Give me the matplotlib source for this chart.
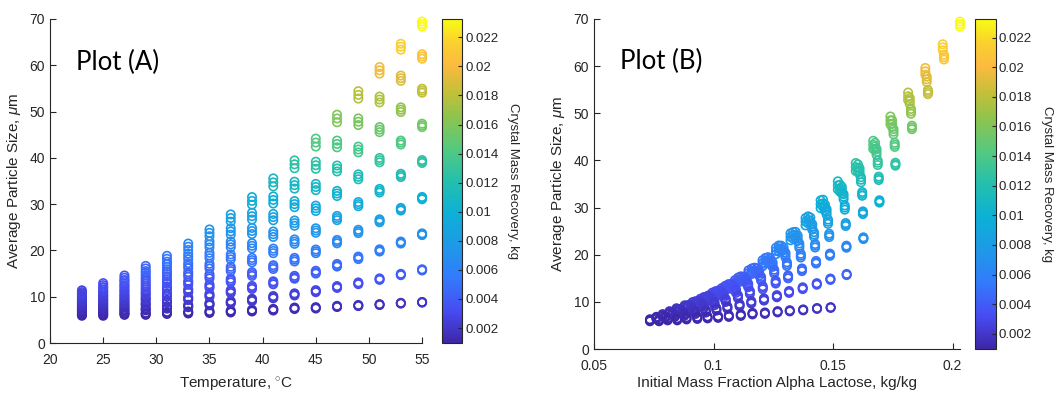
import numpy as np
import matplotlib
matplotlib.use('Agg')
import matplotlib.pyplot as plt
from matplotlib.colors import LinearSegmentedColormap, Normalize
from matplotlib.cm import ScalarMappable

plt.rcParams['font.family'] = 'Liberation Sans'
plt.rcParams['mathtext.fontset'] = 'custom'
plt.rcParams['mathtext.rm'] = 'Liberation Sans'
plt.rcParams['mathtext.it'] = 'Liberation Sans:italic'

# parula style colormap (position, colour)
parula_pos = [0.0, 0.1, 0.2, 0.3, 0.4, 0.5, 0.6, 0.7, 0.78, 0.86, 0.93, 1.0]
parula_rgb = [(0.242, 0.150, 0.660), (0.280, 0.300, 0.950), (0.200, 0.480, 0.990),
              (0.120, 0.600, 0.910), (0.050, 0.690, 0.840), (0.140, 0.750, 0.680),
              (0.330, 0.790, 0.500), (0.560, 0.770, 0.300), (0.780, 0.750, 0.220),
              (0.990, 0.730, 0.250), (0.980, 0.820, 0.180), (0.977, 0.984, 0.080)]
parula = LinearSegmentedColormap.from_list('parula', list(zip(parula_pos, parula_rgb)))

# final temperature, degC
temps = [23, 25, 27, 29, 31, 33, 35, 37, 39, 41, 43, 45, 47, 49, 51, 53, 55]

# average particle size (um), one row per temperature, 9 initial concentrations each
size_um = [
    [6.1, 6.6, 7.15, 7.75, 8.35, 8.95, 9.6, 10.3, 11.0],
    [6.1, 6.75, 7.45, 8.2, 9.0, 9.8, 10.65, 11.55, 12.5],
    [6.3, 7.1, 7.95, 8.85, 9.8, 10.8, 11.85, 12.95, 14.1],
    [6.3, 7.3, 8.4, 9.55, 10.75, 12.0, 13.3, 14.65, 16.1],
    [6.5, 7.7, 9.0, 10.4, 11.8, 13.3, 14.9, 16.5, 18.2],
    [6.6, 8.0, 9.6, 11.3, 13.0, 14.8, 16.7, 18.7, 20.8],
    [6.7, 8.4, 10.3, 12.3, 14.4, 16.6, 18.9, 21.3, 23.8],
    [6.8, 8.8, 11.1, 13.5, 16.0, 18.6, 21.3, 24.1, 27.0],
    [7.0, 9.3, 12.0, 14.9, 17.9, 21.0, 24.2, 27.4, 30.7],
    [7.2, 9.9, 13.0, 16.4, 19.9, 23.5, 27.2, 30.9, 34.7],
    [7.5, 10.5, 14.2, 18.0, 21.9, 25.9, 30.0, 34.1, 38.6],
    [7.6, 11.2, 15.3, 19.8, 24.3, 29.1, 33.7, 38.4, 43.3],
    [7.9, 12.1, 16.8, 21.9, 27.0, 32.3, 37.7, 43.0, 48.5],
    [8.1, 12.9, 18.4, 24.1, 30.0, 35.9, 41.8, 47.8, 53.6],
    [8.3, 13.8, 20.0, 26.4, 32.9, 39.5, 46.1, 52.6, 58.9],
    [8.6, 14.8, 21.7, 28.9, 36.2, 43.3, 50.4, 57.2, 64.0],
    [8.8, 15.8, 23.5, 31.3, 39.2, 47.0, 54.5, 61.9, 68.9],
]

# initial mass fraction of alpha lactose, kg/kg
frac_alpha = [
    [0.0734, 0.0761, 0.0787, 0.0816, 0.0845, 0.0879, 0.0912, 0.0945, 0.0980],
    [0.0772, 0.0798, 0.0828, 0.0857, 0.0892, 0.0925, 0.0960, 0.0995, 0.1035],
    [0.0808, 0.0839, 0.0869, 0.0904, 0.0938, 0.0973, 0.1009, 0.1049, 0.1089],
    [0.0848, 0.0878, 0.0915, 0.0949, 0.0985, 0.1021, 0.1063, 0.1103, 0.1146],
    [0.0887, 0.0924, 0.0959, 0.0995, 0.1032, 0.1074, 0.1115, 0.1160, 0.1205],
    [0.0932, 0.0968, 0.1004, 0.1042, 0.1085, 0.1127, 0.1171, 0.1217, 0.1261],
    [0.0975, 0.1012, 0.1051, 0.1094, 0.1137, 0.1182, 0.1228, 0.1273, 0.1322],
    [0.1019, 0.1058, 0.1102, 0.1145, 0.1191, 0.1238, 0.1283, 0.1333, 0.1385],
    [0.1064, 0.1109, 0.1152, 0.1199, 0.1247, 0.1293, 0.1343, 0.1396, 0.1448],
    [0.1114, 0.1158, 0.1206, 0.1254, 0.1301, 0.1352, 0.1405, 0.1458, 0.1520],
    [0.1163, 0.1211, 0.1260, 0.1307, 0.1359, 0.1413, 0.1466, 0.1529, 0.1595],
    [0.1215, 0.1265, 0.1312, 0.1365, 0.1420, 0.1473, 0.1537, 0.1604, 0.1668],
    [0.1268, 0.1316, 0.1370, 0.1425, 0.1479, 0.1544, 0.1611, 0.1676, 0.1740],
    [0.1319, 0.1373, 0.1429, 0.1484, 0.1549, 0.1617, 0.1682, 0.1747, 0.1814],
    [0.1375, 0.1432, 0.1487, 0.1553, 0.1622, 0.1687, 0.1753, 0.1821, 0.1886],
    [0.1433, 0.1489, 0.1556, 0.1625, 0.1691, 0.1758, 0.1826, 0.1892, 0.1959],
    [0.1490, 0.1557, 0.1627, 0.1694, 0.1761, 0.1830, 0.1897, 0.1964, 0.2031],
]

# crystal mass recovery, kg
recovery_kg = [
    [0.00097, 0.00114, 0.00134, 0.00155, 0.00176, 0.00198, 0.00221, 0.00246, 0.00271],
    [0.00097, 0.00120, 0.00144, 0.00171, 0.00200, 0.00228, 0.00258, 0.00290, 0.00324],
    [0.00104, 0.00132, 0.00162, 0.00194, 0.00228, 0.00263, 0.00301, 0.00340, 0.00381],
    [0.00104, 0.00139, 0.00178, 0.00219, 0.00262, 0.00306, 0.00352, 0.00400, 0.00452],
    [0.00111, 0.00153, 0.00200, 0.00249, 0.00299, 0.00352, 0.00409, 0.00466, 0.00526],
    [0.00114, 0.00164, 0.00221, 0.00281, 0.00342, 0.00405, 0.00473, 0.00544, 0.00618],
    [0.00118, 0.00178, 0.00246, 0.00317, 0.00391, 0.00469, 0.00551, 0.00636, 0.00725],
    [0.00121, 0.00192, 0.00274, 0.00359, 0.00448, 0.00540, 0.00636, 0.00736, 0.00839],
    [0.00129, 0.00210, 0.00306, 0.00409, 0.00515, 0.00626, 0.00739, 0.00853, 0.00970],
    [0.00136, 0.00231, 0.00342, 0.00462, 0.00586, 0.00714, 0.00846, 0.00977, 0.01112],
    [0.00146, 0.00253, 0.00384, 0.00519, 0.00657, 0.00799, 0.00945, 0.01091, 0.01250],
    [0.00150, 0.00278, 0.00423, 0.00583, 0.00743, 0.00913, 0.01076, 0.01243, 0.01417],
    [0.00160, 0.00310, 0.00476, 0.00657, 0.00839, 0.01027, 0.01218, 0.01407, 0.01602],
    [0.00168, 0.00338, 0.00533, 0.00736, 0.00945, 0.01154, 0.01364, 0.01577, 0.01783],
    [0.00175, 0.00370, 0.00590, 0.00817, 0.01048, 0.01282, 0.01517, 0.01747, 0.01971],
    [0.00185, 0.00405, 0.00650, 0.00906, 0.01165, 0.01417, 0.01669, 0.01911, 0.02152],
    [0.00192, 0.00441, 0.00714, 0.00991, 0.01272, 0.01549, 0.01815, 0.02077, 0.02326],
]

# relative scatter of particle size between the three seeding runs at each temperature
run_spread = [0.035, 0.035, 0.035, 0.035, 0.035, 0.033, 0.031, 0.029, 0.027,
              0.025, 0.022, 0.020, 0.017, 0.015, 0.012, 0.010, 0.008]
runs = [-1, 0, 1]

cbar_ticks = [0.002, 0.004, 0.006, 0.008, 0.01, 0.012, 0.014, 0.016, 0.018, 0.02, 0.022]

# flatten everything into point lists
T_pts, X_pts, Y_pts, C_pts = [], [], [], []
for i, T in enumerate(temps):
    for k in range(len(size_um[i])):
        for r in runs:
            T_pts.append(T)
            X_pts.append(frac_alpha[i][k])
            Y_pts.append(size_um[i][k] * (1 + r * run_spread[i]))
            C_pts.append(recovery_kg[i][k])

cmin = min(min(row) for row in recovery_kg)
cmax = max(max(row) for row in recovery_kg)
norm = Normalize(vmin=cmin, vmax=cmax)
cols = parula(norm(np.array(C_pts)))

dark = (0.15, 0.15, 0.15)

fig = plt.figure(figsize=(10.6, 3.94), dpi=100)


def style(ax):
    for s in ['top', 'right']:
        ax.spines[s].set_visible(False)
    for s in ['left', 'bottom']:
        ax.spines[s].set_color(dark)
        ax.spines[s].set_linewidth(0.8)
    ax.tick_params(direction='in', length=4, width=0.8, colors=dark, labelsize=10)
    ax.tick_params(axis='x', pad=7)
    ax.set_ylim(0, 70)
    ax.set_yticks(range(0, 71, 10))
    ax.set_ylabel(r'Average Particle Size, $\mu$m', fontsize=11, color=dark, labelpad=5)


def add_cbar(rect):
    cax = fig.add_axes(rect)
    cb = fig.colorbar(ScalarMappable(norm=norm, cmap=parula), cax=cax)
    cb.set_ticks(cbar_ticks)
    cb.set_ticklabels(['%g' % t for t in cbar_ticks])
    cb.outline.set_edgecolor(dark)
    cb.outline.set_linewidth(0.8)
    cax.tick_params(direction='in', length=3, width=0.8, colors=dark, labelsize=9.5, pad=2)
    cb.set_label('Crystal Mass Recovery, kg', rotation=270, labelpad=15, fontsize=9.5, color=dark)
    return cb


# Plot (A): particle size vs temperature
axA = fig.add_axes([0.0472, 0.1294, 0.351, 0.8225])
axA.scatter(T_pts, Y_pts, s=36, facecolors='none', edgecolors=cols, linewidths=1.2, clip_on=False)
style(axA)
axA.set_xlim(20, 55)
axA.set_xticks(range(20, 56, 5))
axA.set_xlabel(r'Temperature, $^{\circ}$C', fontsize=11, color=dark, labelpad=6)
axA.text(0.07, 0.865, 'Plot (A)', transform=axA.transAxes, fontsize=18.5,
         family='Lato', va='center')
add_cbar([0.417, 0.1294, 0.0192, 0.8225])

# Plot (B): particle size vs initial alpha lactose fraction
axB = fig.add_axes([0.5604, 0.1142, 0.345, 0.8376])
axB.scatter(X_pts, Y_pts, s=36, facecolors='none', edgecolors=cols, linewidths=1.2, clip_on=False)
style(axB)
axB.set_xlim(0.05, 0.203)
axB.set_xticks([0.05, 0.1, 0.15, 0.2])
axB.set_xticklabels(['0.05', '0.1', '0.15', '0.2'])
axB.set_xlabel('Initial Mass Fraction Alpha Lactose, kg/kg', fontsize=11, color=dark, labelpad=2)
axB.text(0.07, 0.87, 'Plot (B)', transform=axB.transAxes, fontsize=18.5,
         family='Lato', va='center')
add_cbar([0.9198, 0.1142, 0.0198, 0.8376])

fig.savefig('out.png', dpi=100)
